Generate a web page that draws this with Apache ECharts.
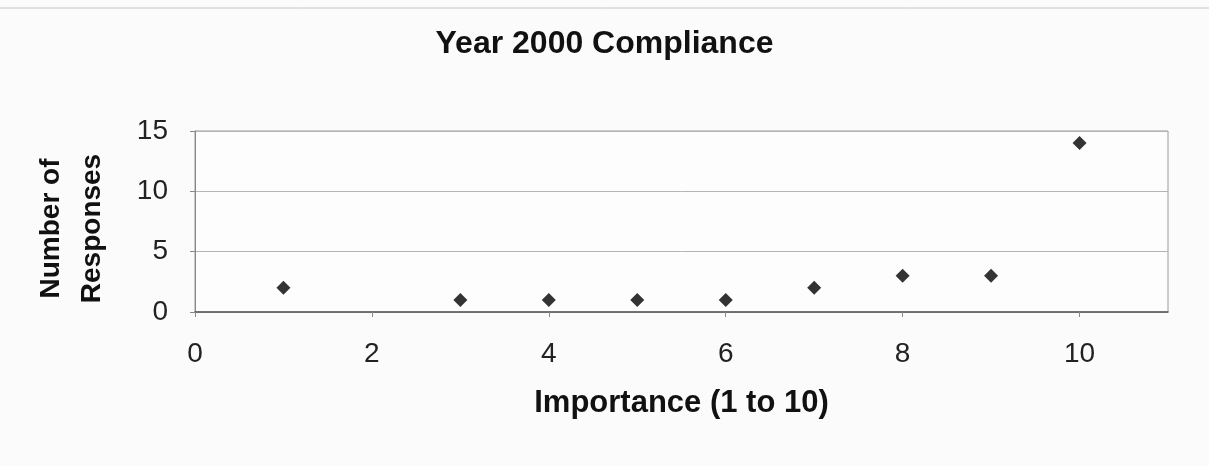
<!DOCTYPE html>
<html>
<head>
<meta charset="utf-8">
<style>
  html, body { margin: 0; padding: 0; background: #fbfbfb; }
  #chart { width: 1209px; height: 466px; }
</style>
<script src="https://cdn.jsdelivr.net/npm/echarts@6/dist/echarts.min.js"></script>
</head>
<body>
<div id="chart"></div>
<script>
// Survey responses: importance rating vs. number of responses
const importance = [1, 3, 4, 5, 6, 7, 8, 9, 10];
const responses  = [2, 1, 1, 1, 1, 2, 3, 3, 14];

const points = importance.map((x, i) => [x, responses[i]]);
const font = '"Liberation Sans", Arial, sans-serif';

const chart = echarts.init(document.getElementById('chart'), null, { renderer: 'canvas' });
chart.setOption({
  backgroundColor: '#fbfbfb',
  animation: false,
  title: {
    text: 'Year 2000 Compliance',
    left: 'center',
    top: 23,
    textStyle: { fontFamily: font, fontSize: 32, fontWeight: 'bold', color: '#111' }
  },
  // thin outer frame line along the top of the chart area
  graphic: [{
    type: 'line',
    shape: { x1: 0, y1: 8, x2: 1209, y2: 8 },
    style: { stroke: '#c4c4c4', lineWidth: 1 }
  }],
  grid: { left: 195, right: 41, top: 131, bottom: 154, show: true, borderColor: '#9a9a9a', borderWidth: 1, backgroundColor: '#fdfdfd' },
  xAxis: {
    type: 'value',
    min: 0, max: 11, interval: 2,
    name: 'Importance (1 to 10)',
    nameLocation: 'middle',
    nameGap: 76,
    nameTextStyle: { fontFamily: font, fontSize: 31, fontWeight: 'bold', color: '#111' },
    axisLine: { show: true, onZero: false, lineStyle: { color: '#555', width: 1.5 } },
    axisTick: { show: true, length: 5, lineStyle: { color: '#888' } },
    axisLabel: { fontFamily: font, fontSize: 28, color: '#222', margin: 28, showMaxLabel: false },
    splitLine: { show: false }
  },
  yAxis: {
    type: 'value',
    min: 0, max: 15, interval: 5,
    name: 'Number of\nResponses',
    nameLocation: 'middle',
    nameGap: 82,
    nameRotate: 90,
    nameTextStyle: { fontFamily: font, fontSize: 28, fontWeight: 'bold', color: '#111', lineHeight: 41, padding: [0, 14, 0, 0] },
    axisLine: { show: true, lineStyle: { color: '#888' } },
    axisTick: { show: true, length: 5, lineStyle: { color: '#888' } },
    axisLabel: { fontFamily: font, fontSize: 28, color: '#222', margin: 27 },
    splitLine: { show: true, lineStyle: { color: '#b4b4b4', width: 1 } }
  },
  series: [{
    type: 'scatter',
    data: points,
    symbol: 'diamond',
    symbolSize: 14,
    itemStyle: { color: '#000' }
  }]
});
</script>
</body>
</html>
